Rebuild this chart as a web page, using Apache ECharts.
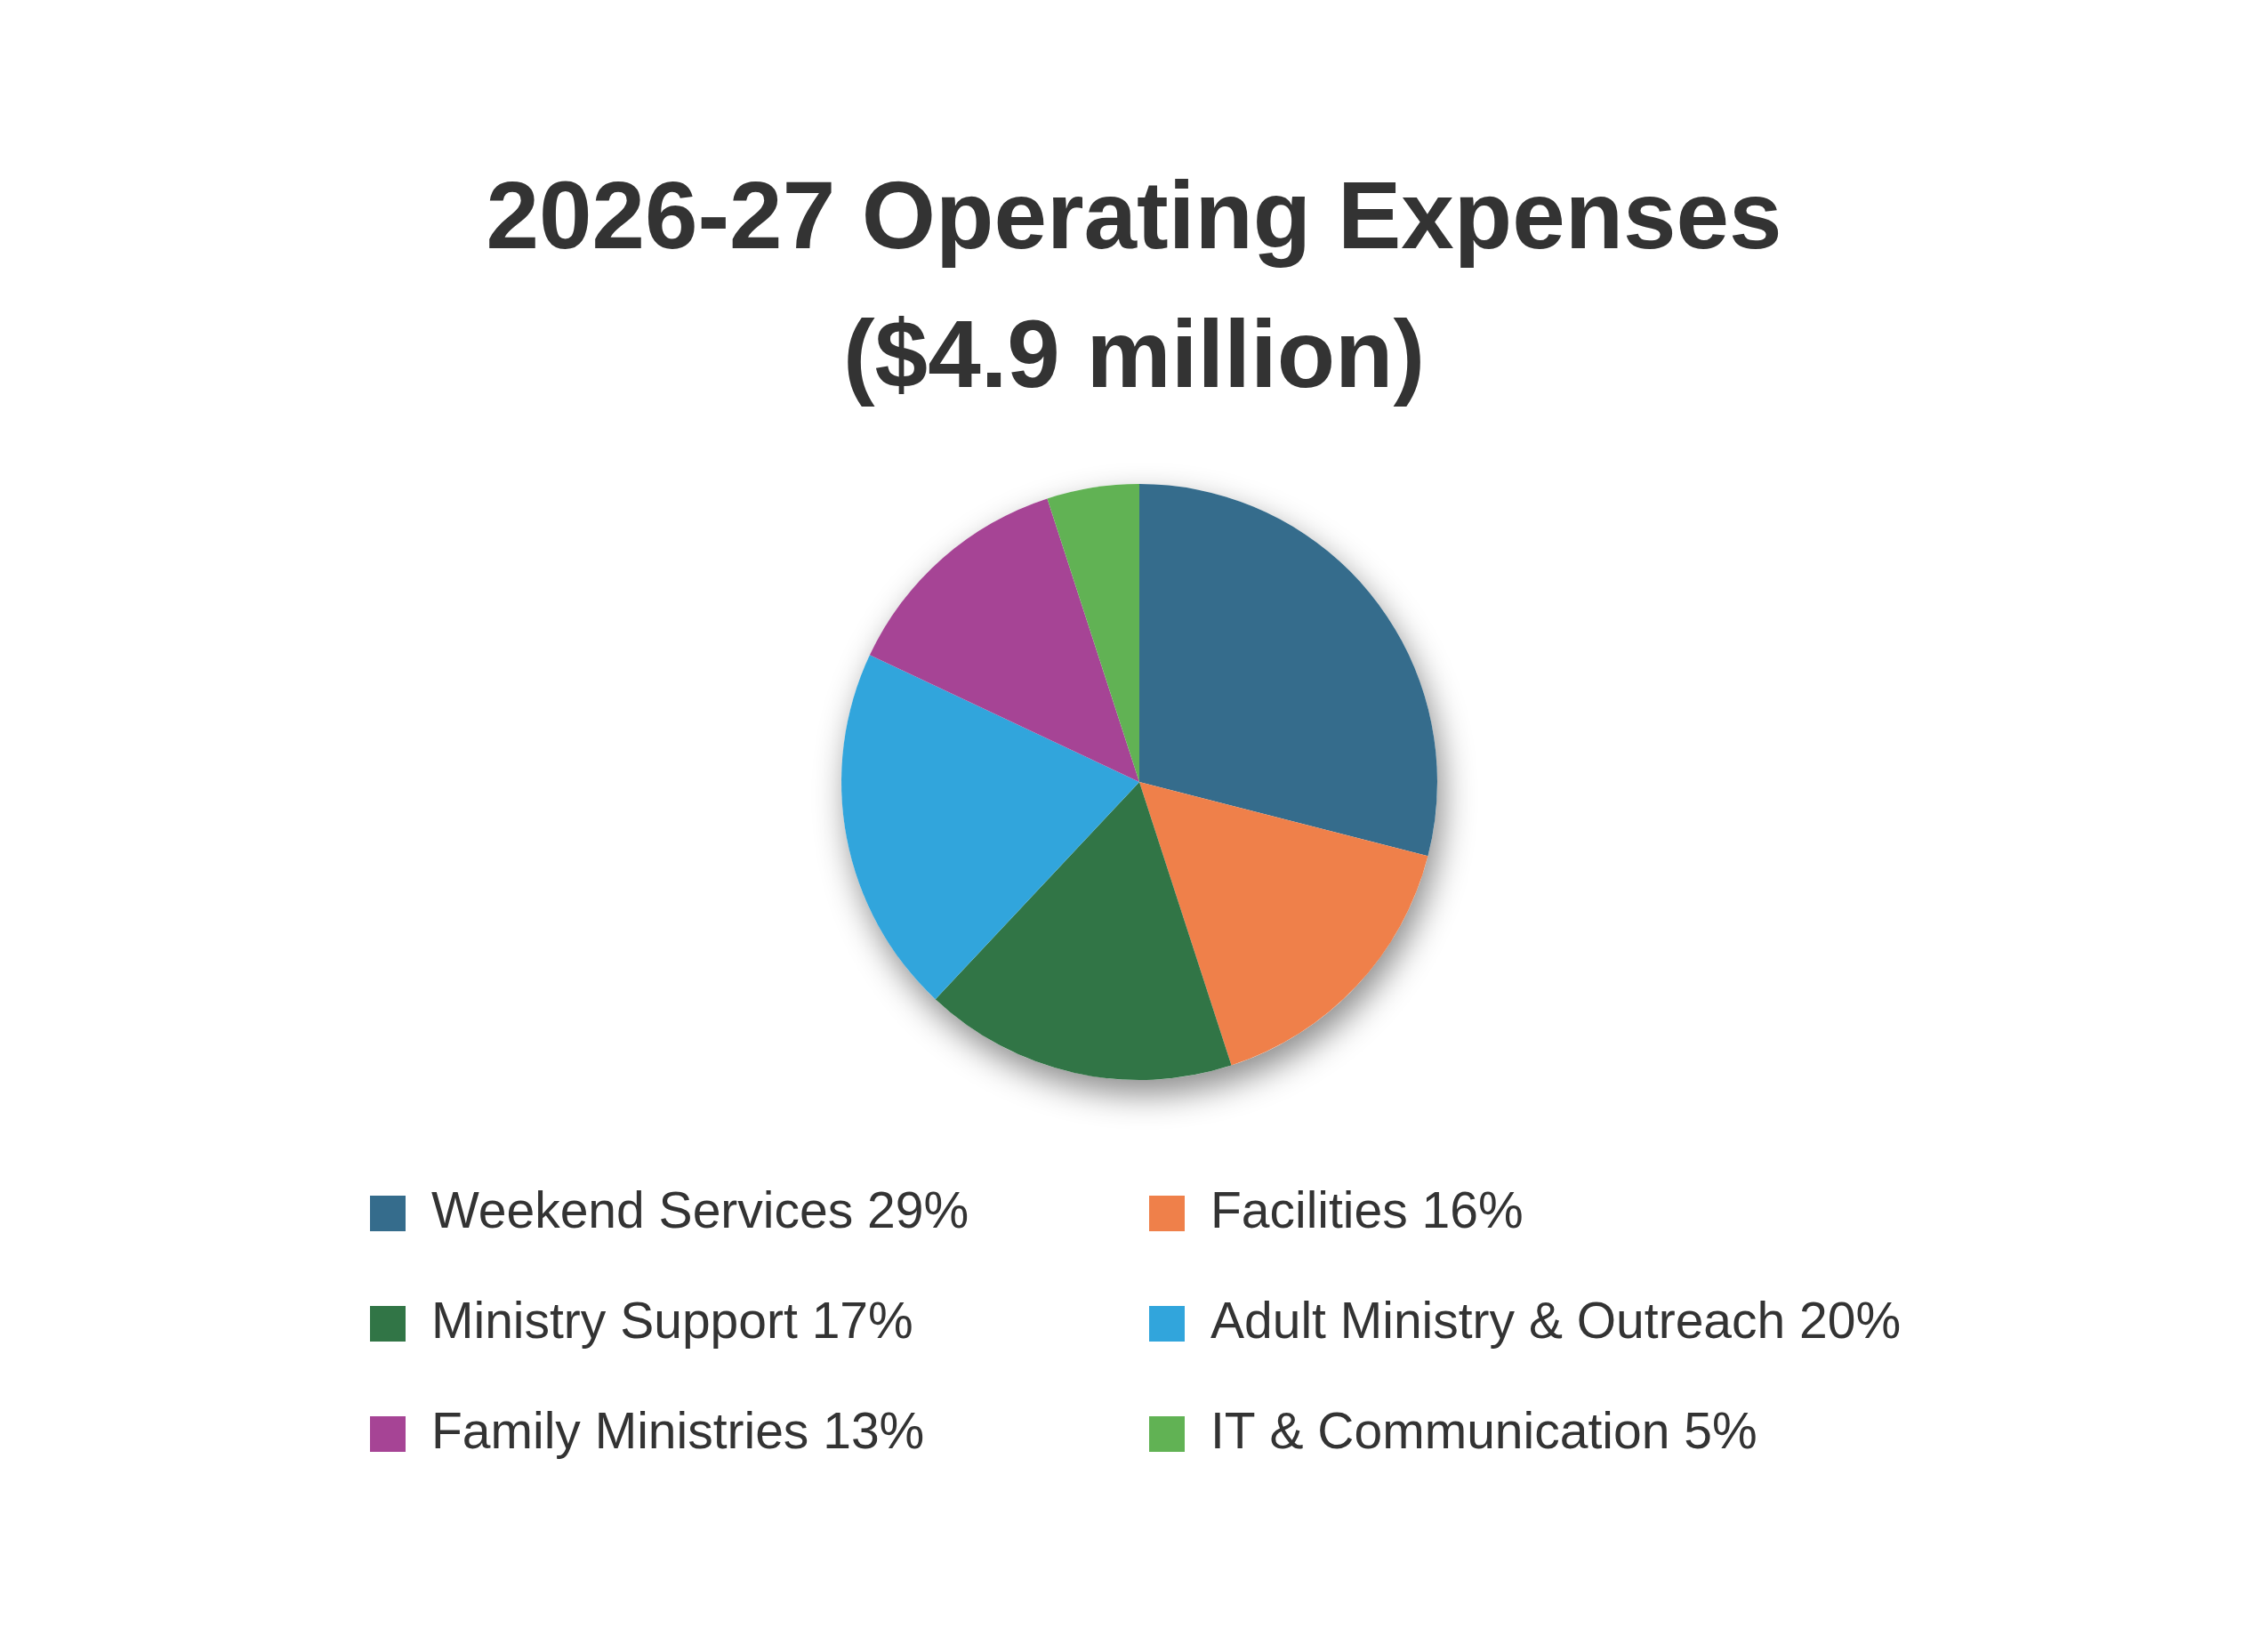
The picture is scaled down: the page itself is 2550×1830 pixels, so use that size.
<!DOCTYPE html>
<html>
<head>
<meta charset="utf-8">
<title>2026-27 Operating Expenses</title>
<script src="https://cdn.jsdelivr.net/npm/echarts@6/dist/echarts.min.js"></script>
<style>
  html, body { margin: 0; padding: 0; background: #fff; }
  #main { width: 2550px; height: 1830px; }
</style>
</head>
<body>
<div id="main"></div>
<script>
// data
var categories = ['Weekend Services', 'Facilities', 'Ministry Support', 'Adult Ministry & Outreach', 'Family Ministries', 'IT & Communication'];
var percents = [29, 16, 17, 20, 13, 5];
var colors = ['#356c8c', '#ef804a', '#317546', '#31a5dc', '#a64495', '#61b254'];
var leftColumn = ['Weekend Services', 'Ministry Support', 'Family Ministries'];
var rightColumn = ['Facilities', 'Adult Ministry & Outreach', 'IT & Communication'];

var chart = echarts.init(document.getElementById('main'));

var pieData = categories.map(function (name, i) {
  return { name: name, value: percents[i], itemStyle: { color: colors[i] } };
});
var total = percents.reduce(function (a, b) { return a + b; }, 0);

function legendLabel(name) {
  return name + ' ' + percents[categories.indexOf(name)] + '%';
}

var legendBase = {
  orient: 'vertical',
  top: 1329,
  itemWidth: 40,
  itemHeight: 40,
  itemGap: 64,
  icon: 'rect',
  selectedMode: false,
  formatter: legendLabel,
  textStyle: {
    fontFamily: 'Liberation Sans',
    fontSize: 57,
    lineHeight: 60,
    color: '#333333',
    padding: [0, 0, 0, 24]
  }
};

var option = {
  backgroundColor: '#ffffff',
  animation: false,
  title: {
    text: '2026-27 Operating Expenses\n($4.9 million)',
    left: 'center',
    top: 166,
    textStyle: {
      fontFamily: 'Liberation Sans',
      fontWeight: 'bold',
      fontSize: 107,
      lineHeight: 156,
      color: '#333333'
    }
  },
  legend: [
    Object.assign({}, legendBase, { left: 411, data: leftColumn }),
    Object.assign({}, legendBase, { left: 1287, data: rightColumn })
  ],
  series: [
    {
      // plain disc under the slices, only to carry the drop shadow
      type: 'pie',
      silent: true,
      z: 1,
      center: [1281, 879],
      radius: 335,
      label: { show: false },
      labelLine: { show: false },
      data: [{ name: '', value: total }],
      itemStyle: {
        color: '#ffffff',
        shadowBlur: 36,
        shadowOffsetX: 6,
        shadowOffsetY: 16,
        shadowColor: 'rgba(0,0,0,0.45)'
      },
      legendHoverLink: false
    },
    {
      type: 'pie',
      z: 2,
      center: [1281, 879],
      radius: 335,
      startAngle: 90,
      clockwise: true,
      label: { show: false },
      labelLine: { show: false },
      itemStyle: { borderWidth: 0 },
      emphasis: { disabled: true },
      data: pieData
    }
  ]
};

chart.setOption(option);
</script>
</body>
</html>
